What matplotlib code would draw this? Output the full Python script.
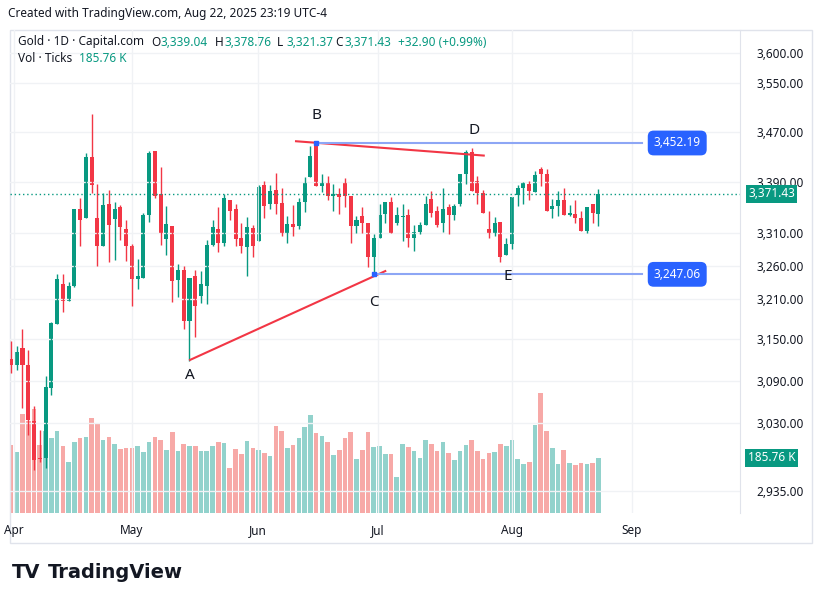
import matplotlib.pyplot as plt
import matplotlib.ticker as mticker
import numpy as np

plt.rcParams['font.family'] = 'Noto Sans'

# daily OHLC, Apr 1 .. Aug 22 2025
opens = [3122, 3112, 3138, 3112, 3033, 2980, 2980, 3080, 3173, 3232, 3207, 3230, 3347, 3334, 3430, 3333,
         3291, 3355, 3332, 3350, 3316, 3291, 3240, 3242, 3338, 3440, 3371, 3301, 3321, 3238, 3253, 3177,
         3244, 3215, 3230, 3292, 3316, 3295, 3362, 3347, 3303, 3289, 3318, 3298, 3385, 3356, 3377, 3357,
         3310, 3324, 3321, 3358, 3398, 3455, 3383, 3390, 3368, 3371, 3390, 3368, 3321, 3337, 3326, 3274,
         3303, 3339, 3358, 3325, 3335, 3338, 3302, 3312, 3322, 3363, 3345, 3325, 3350, 3338, 3355, 3403,
         3438, 3392, 3373, 3316, 3311, 3327, 3276, 3293, 3370, 3380, 3387, 3374, 3410, 3402, 3347, 3352,
         3361, 3338, 3340, 3334, 3314, 3355, 3339.04]
highs = [3147, 3141, 3166, 3135, 3054, 3020, 3097, 3175, 3247, 3247, 3235, 3348, 3364, 3436, 3500, 3386,
         3372, 3377, 3358, 3354, 3331, 3293, 3270, 3342, 3440, 3440, 3414, 3352, 3321, 3263, 3260, 3242,
         3254, 3252, 3299, 3330, 3350, 3371, 3362, 3355, 3325, 3335, 3323, 3385, 3392, 3385, 3405, 3380,
         3337, 3354, 3365, 3398, 3447, 3452.19, 3403, 3400, 3387, 3380, 3397, 3368, 3337, 3350, 3326, 3309,
         3356, 3358, 3366, 3350, 3355, 3348, 3322, 3327, 3368, 3375, 3352, 3380, 3355, 3355, 3403, 3441,
         3444, 3399, 3378, 3344, 3335, 3327, 3303, 3366, 3385, 3390, 3392, 3408, 3414, 3410, 3363, 3375,
         3380, 3353, 3361, 3345, 3351, 3355, 3378.76]
lows = [3101, 3105, 3051, 3013, 2964, 2975, 2967, 3070, 3173, 3190, 3207, 3228, 3290, 3334, 3372, 3259,
        3291, 3266, 3269, 3300, 3268, 3200, 3225, 3242, 3327, 3365, 3292, 3276, 3205, 3213, 3166, 3118,
        3153, 3204, 3202, 3290, 3281, 3290, 3330, 3290, 3279, 3245, 3273, 3298, 3333, 3347, 3340, 3305,
        3295, 3305, 3316, 3343, 3398, 3383, 3374, 3361, 3344, 3340, 3351, 3295, 3310, 3310, 3258, 3247.06,
        3303, 3326, 3310, 3322, 3298, 3288, 3282, 3309, 3322, 3335, 3320, 3312, 3309, 3330, 3352, 3387,
        3376, 3356, 3342, 3302, 3306, 3266, 3276, 3285, 3352, 3356, 3362, 3374, 3384, 3344, 3333, 3337,
        3338, 3336, 3326, 3314, 3310, 3326, 3321.37]
closes = [3112, 3131, 3112, 3034, 2978, 2979, 3081, 3174, 3240, 3207, 3230, 3348, 3330, 3430, 3385, 3291,
          3354, 3322, 3348, 3320, 3291, 3240, 3245, 3338, 3436, 3368, 3310, 3324, 3237, 3253, 3177, 3242,
          3200, 3232, 3292, 3320, 3295, 3364, 3345, 3301, 3291, 3320, 3291, 3382, 3352, 3375, 3355, 3311,
          3324, 3319, 3358, 3389, 3432, 3383, 3388, 3368, 3371, 3367, 3368, 3321, 3330, 3326, 3274, 3303,
          3338, 3358, 3310, 3338, 3337, 3302, 3312, 3322, 3355, 3342, 3322, 3347, 3338, 3352, 3403, 3438,
          3376, 3373, 3342, 3311, 3325, 3273, 3293, 3366, 3380, 3388, 3375, 3401, 3402, 3344, 3352, 3361,
          3338, 3341, 3334, 3314, 3351, 3342, 3371.43]
# volume, thousands of ticks
volume = [230, 207, 334, 312, 351, 230, 277, 253, 277, 226, 172, 240, 253, 257, 321, 304,
          247, 257, 233, 216, 220, 220, 226, 206, 240, 257, 247, 213, 274, 209, 233, 226,
          226, 209, 209, 226, 240, 236, 152, 216, 199, 243, 220, 213, 203, 193, 294, 277,
          220, 230, 253, 290, 331, 270, 260, 240, 196, 213, 253, 274, 182, 213, 274, 223,
          226, 199, 199, 122, 233, 223, 209, 186, 247, 233, 209, 240, 203, 179, 209, 230,
          247, 209, 182, 203, 206, 233, 226, 247, 182, 166, 172, 297, 405, 277, 220, 166,
          213, 169, 162, 169, 166, 169, 185.76]

month_pos = [0.5, 21, 42.9, 63.7, 87, 107.8]
month_labels = ['Apr', 'May', 'Jun', 'Jul', 'Aug', 'Sep']
price_ticks = [2935, 3030, 3090, 3150, 3210, 3260, 3310, 3390, 3470, 3550, 3600]

GREEN = '#089981'
RED = '#F23645'
BLUE = '#2962FF'
W, H = 822, 603

o, h, l, c = map(np.array, (opens, highs, lows, closes))
idx = np.arange(len(o))
up = c >= o
cols = np.where(up, GREEN, RED)

fig = plt.figure(figsize=(W / 100, H / 100), dpi=100)
ax = fig.add_axes([10 / W, 1 - 513 / H, 730 / W, 483 / H])
axv = ax.twinx()
axv.set_zorder(0)
ax.set_zorder(1)
ax.patch.set_visible(False)

# volume
vcols = np.where(up, '#92D2CC', '#F7A9A7')
axv.bar(idx, volume, width=0.8, color=vcols)
axv.set_ylim(0, 1631)
axv.set_yticks([])
for s in axv.spines.values():
    s.set_visible(False)

# candles
ax.vlines(idx, l, h, color=cols, lw=1)
ax.bar(idx, np.maximum(np.abs(c - o), 0.8), bottom=np.minimum(o, c), width=0.7, color=cols)

ax.set_yscale('log')
ax.set_ylim(2905, 3639)
ax.set_xlim(-0.17, 126.6)
ax.yaxis.tick_right()
ax.set_yticks(price_ticks)
ax.yaxis.set_major_formatter(mticker.FuncFormatter(lambda v, p: f'{v:,.2f}'))
ax.yaxis.set_minor_locator(mticker.NullLocator())
ax.tick_params(axis='y', length=0, pad=12, labelsize=8.5, labelcolor='#131722')
ax.set_xticks(month_pos)
ax.set_xticklabels(month_labels)
ax.tick_params(axis='x', length=0, pad=8, labelsize=8.5, labelcolor='#131722')
ax.grid(True, color='#F0F2F5', lw=1)
for s in ['top', 'left', 'bottom']:
    ax.spines[s].set_visible(False)
ax.spines['right'].set_color('#E0E3EB')

# last price line and labels
ax.axhline(closes[-1], color=GREEN, lw=1, ls=(0, (1, 2)))
ax.text(1.011, closes[-1], f'{closes[-1]:,.2f}', transform=ax.get_yaxis_transform(), va='center', ha='left',
        color='white', fontsize=8.5, zorder=5, bbox=dict(boxstyle='square,pad=0.2', fc=GREEN, ec='none'))
axv.text(1.011, volume[-1], '185.76 K', transform=axv.get_yaxis_transform(), va='center', ha='left',
         color='white', fontsize=8.5, bbox=dict(boxstyle='square,pad=0.25', fc=GREEN, ec='none'))

# pattern drawings
ax.plot([49.5, 82.1], [3455, 3432], color=RED, lw=1.5)
ax.plot([31.1, 65], [3120, 3252], color=RED, lw=1.5)
for lvl, x0 in [(3452.19, 53), (3247.06, 63)]:
    ax.plot([x0, 109.5], [lvl, lvl], color='#8DA6F5', lw=1.5)
    ax.text(115.7, lvl, f'{lvl:,.2f}', ha='center', va='center', color='white', fontsize=8.5,
            bbox=dict(boxstyle='round,pad=0.5', fc=BLUE, ec='none'))
ax.plot([53, 63], [3452.19, 3247.06], ls='none', marker='s', ms=3.5, color=BLUE)
for t, xi, p in [('A', 31, 3098), ('B', 53, 3497), ('C', 63, 3205), ('D', 80.5, 3472), ('E', 86.2, 3244)]:
    ax.text(xi, p, t, ha='center', va='center', fontsize=11, color='#131722')

# header texts (pixel positions)
def ftext(x, y, s, **kw):
    kw.setdefault('fontsize', 8.5)
    fig.text(x / W, 1 - y / H, s, va='center', **kw)

ftext(8, 14, 'Created with TradingView.com, Aug 22, 2025 23:19 UTC-4', color='#131722')
ftext(18, 42, 'Gold · 1D · Capital.com', color='#131722')
for lab, val, x in [('O', '3,339.04', 151), ('H', '3,378.76', 215), ('L', '3,321.37', 277), ('C', '3,371.43', 335)]:
    ftext(x, 42, lab, color='#131722')
    ftext(x + 9, 42, val, color=GREEN)
ftext(398, 42, '+32.90 (+0.99%)', color=GREEN)
ftext(18, 58, 'Vol · Ticks', color='#131722')
ftext(79, 58, '185.76 K', color=GREEN)
ftext(12, 573, 'TV', color='#131722', fontsize=14, weight='bold', family='DejaVu Sans')
ftext(48, 573, 'TradingView', color='#131722', fontsize=14, weight='bold', family='DejaVu Sans')

# outer frame
fig.add_artist(plt.Rectangle((10 / W, 1 - 543 / H), 802 / W, 513 / H, transform=fig.transFigure,
                             fill=False, ec='#E0E3EB', lw=1))

fig.savefig('out.png', dpi=100)
